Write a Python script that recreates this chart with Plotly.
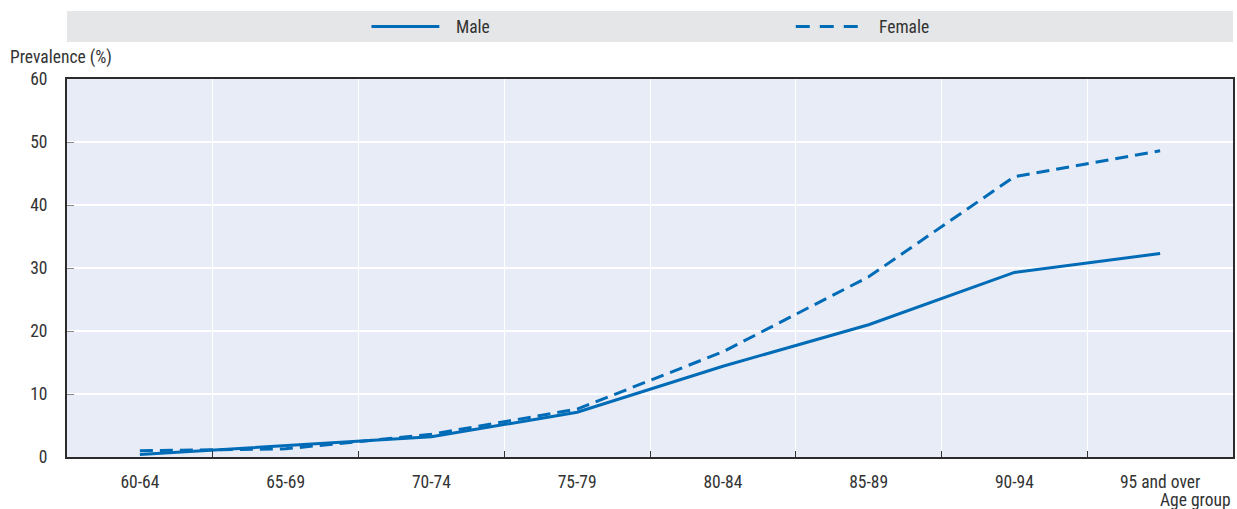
import plotly.graph_objects as go

# Data
age_groups = ["60-64", "65-69", "70-74", "75-79", "80-84", "85-89", "90-94", "95 and over"]
male = [0.4, 1.8, 3.2, 7.1, 14.4, 21.0, 29.3, 32.3]
female = [1.0, 1.3, 3.6, 7.6, 16.7, 28.6, 44.5, 48.6]

_BLUE = "#006bb6"
_FONT = "Liberation Sans Narrow, Arial Narrow, Roboto Condensed, Liberation Sans, sans-serif"
_TEXT = "#333333"
_SIZE = 17.5

W, H = 1237, 509
L, R, T, B = 67, 2, 79, 52

fig = go.Figure()

fig.add_trace(go.Scatter(
    x=age_groups, y=male, name="Male", mode="lines",
    line=dict(color=_BLUE, width=3),
))
fig.add_trace(go.Scatter(
    x=age_groups, y=female, name="Female", mode="lines",
    line=dict(color=_BLUE, width=3, dash="13px,7px"),
))

# Legend drawn by hand: grey band above the plot
pw = W - L - R


def px_x(x):
    return (x - L) / pw


def px_y(y):
    return (H - B - y) / (H - T - B)


shapes = [
    dict(type="rect", xref="paper", yref="paper",
         x0=px_x(67), x1=px_x(1235), y0=px_y(42), y1=px_y(11),
         fillcolor="#e5e6e8", line=dict(width=0), layer="below"),
    dict(type="line", xref="paper", yref="paper",
         x0=px_x(372), x1=px_x(440), y0=px_y(26.5), y1=px_y(26.5),
         line=dict(color=_BLUE, width=3)),
    dict(type="line", xref="paper", yref="paper",
         x0=px_x(797), x1=px_x(864), y0=px_y(26.5), y1=px_y(26.5),
         line=dict(color=_BLUE, width=3, dash="14px,10px")),
]

annotations = [
    dict(text="Male", xref="paper", yref="paper", x=px_x(455), y=px_y(27),
         xanchor="left", yanchor="middle", showarrow=False,
         font=dict(size=_SIZE, color=_TEXT, family=_FONT)),
    dict(text="Female", xref="paper", yref="paper", x=px_x(878), y=px_y(27),
         xanchor="left", yanchor="middle", showarrow=False,
         font=dict(size=_SIZE, color=_TEXT, family=_FONT)),
    dict(text="Prevalence (%)", xref="paper", yref="paper", x=px_x(8), y=px_y(57),
         xanchor="left", yanchor="middle", showarrow=False,
         font=dict(size=_SIZE, color=_TEXT, family=_FONT)),
    dict(text="Age group", xref="paper", yref="paper", x=1, y=px_y(500),
         xanchor="right", yanchor="middle", showarrow=False,
         font=dict(size=_SIZE, color=_TEXT, family=_FONT)),
]

fig.update_layout(
    width=W, height=H,
    margin=dict(l=L, r=R, t=T, b=B),
    paper_bgcolor="white",
    plot_bgcolor="#e8ecf6",
    showlegend=False,
    shapes=shapes,
    annotations=annotations,
    font=dict(family=_FONT, size=_SIZE, color=_TEXT),
)

fig.update_xaxes(
    type="category",
    tickson="boundaries",
    ticks="inside", ticklen=6, tickcolor="#333333", tickwidth=1,
    showgrid=True, gridcolor="white", gridwidth=1,
    showline=True, linecolor="#2b2b2b", linewidth=2, mirror=True,
    ticklabelstandoff=8,
    range=[-0.5, 7.5],
)
fig.update_yaxes(
    range=[0, 60], dtick=10,
    ticks="inside", ticklen=7, tickcolor="#888888", tickwidth=1,
    showgrid=True, gridcolor="white", gridwidth=1.5,
    showline=True, linecolor="#2b2b2b", linewidth=2, mirror=True,
    zeroline=False,
    ticklabelstandoff=14,
)

# drop the default 8px page margin so the figure sits at the window's corner
fig.write_html(
    "out.html",
    config={"displayModeBar": False},
    post_script="document.body.style.margin='0';",
)
